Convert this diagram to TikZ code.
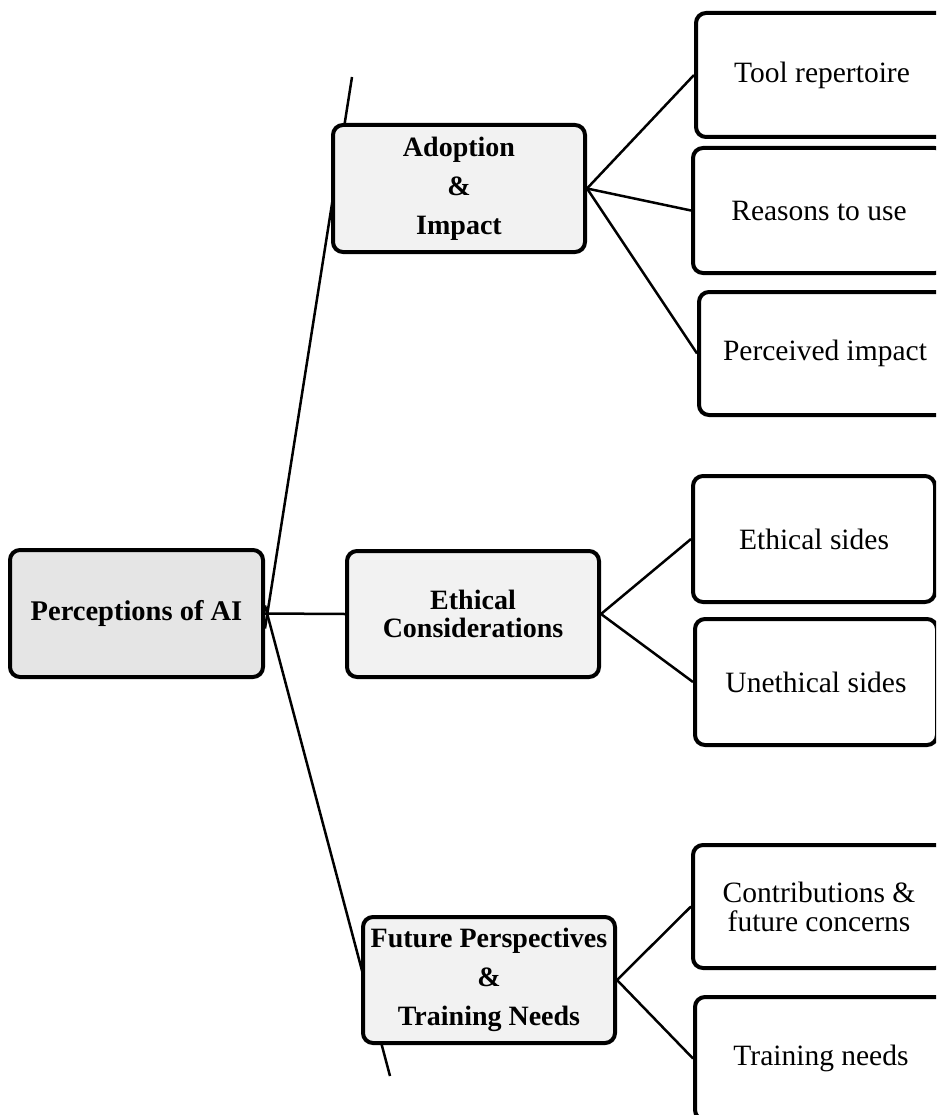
\documentclass[tikz,border=0pt]{standalone}
\usepackage{fontspec}
\setmainfont{Liberation Serif}
\usetikzlibrary{backgrounds}
\begin{document}
\begin{tikzpicture}[x=1pt,y=-1pt,
  boxbase/.style={draw=black,line width=4pt,rounded corners=10pt,align=center,inner sep=2pt,
    font=\fontsize{29.5}{38}\selectfont},
  rootbox/.style={boxbase,fill=black!10,font=\fontsize{28.5}{38}\selectfont\bfseries},
  midbox/.style={boxbase,fill=black!5,font=\fontsize{28}{39}\selectfont\bfseries},
  leafbox/.style={boxbase,fill=white,font=\fontsize{29.5}{29}\selectfont},
  conn/.style={draw=black,line width=2.5pt}]
\clip (0,0) rectangle (936,1115);
\node[rootbox,minimum width=253,minimum height=127] (root) at (136.5,613.5) {Perceptions of AI};
\node[midbox,minimum width=252,minimum height=127] (adopt) at (459,188.5) {Adoption\\\&\\Impact};
\node[midbox,minimum width=252,minimum height=126,font=\fontsize{28}{28}\selectfont\bfseries] (ethic) at (473,614) {Ethical\\Considerations};
\node[midbox,minimum width=252,minimum height=126] (future) at (489,980) {Future Perspectives\\\&\\Training Needs};
\node[leafbox,minimum width=252,minimum height=124] (tool) at (822,75) {Tool repertoire};
\node[leafbox,minimum width=252,minimum height=125] (reasons) at (819,210.5) {Reasons to use};
\node[leafbox,minimum width=252,minimum height=123] (perceived) at (825,353.5) {Perceived impact};
\node[leafbox,minimum width=242,minimum height=126] (ethsides) at (814,539) {Ethical sides};
\node[leafbox,minimum width=242,minimum height=126] (unethsides) at (816,682) {Unethical sides};
\node[leafbox,minimum width=252,minimum height=123] (contrib) at (819,906.5) {Contributions \&\\future concerns};
\node[leafbox,minimum width=252,minimum height=123] (training) at (821,1058.5) {Training needs};
\coordinate (topend) at (352,77);
\coordinate (botend) at (390,1076);
\begin{pgfonlayer}{background}
\draw[conn] ([yshift=-15pt]root.east) -- (topend);
\draw[conn] ([yshift=8pt]root.east) -- (botend);
\end{pgfonlayer}
\draw[conn] (root.east) -- (ethic.west);
\draw[conn] (adopt.east) -- (tool.west);
\draw[conn] (adopt.east) -- (reasons.west);
\draw[conn] (adopt.east) -- (perceived.west);
\draw[conn] (ethic.east) -- (ethsides.west);
\draw[conn] (ethic.east) -- (unethsides.west);
\draw[conn] (future.east) -- (contrib.west);
\draw[conn] (future.east) -- (training.west);
\end{tikzpicture}
\end{document}
